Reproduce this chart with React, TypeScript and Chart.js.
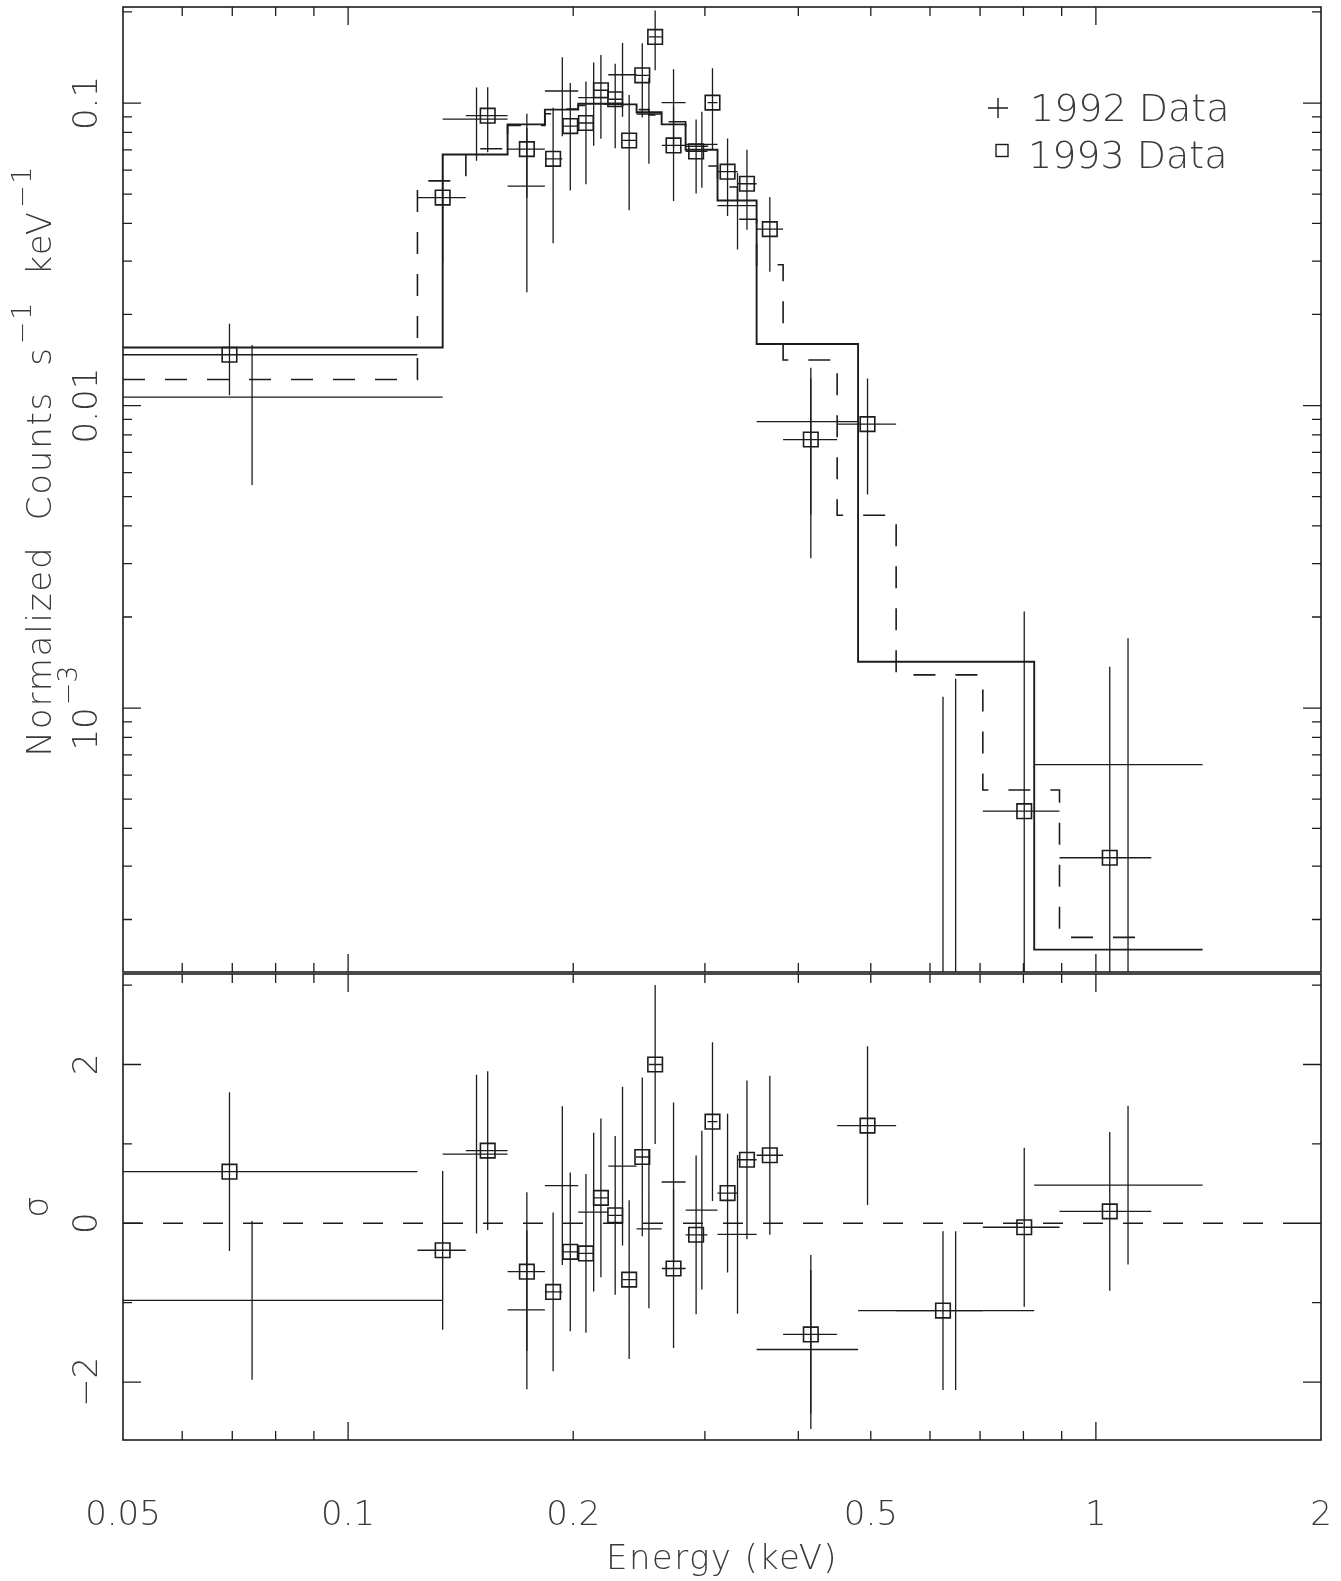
import React, { useEffect, useRef } from 'react';
import { Chart, registerables } from 'chart.js';

Chart.register(...registerables);

// ---------- axis ranges ----------
const energyMin = 0.05;
const energyMax = 2;
const countsMin = 1.341e-4;
const countsMax = 0.2077;
const sigmaMin = -2.73;
const sigmaMax = 3.14;

// ---------- 1992 data (crosses) ----------
const energy1992 = [0.0744, 0.1485, 0.1734, 0.1934, 0.213, 0.2328, 0.2525, 0.2724, 0.2972, 0.3317, 0.4157, 0.6493, 1.104];
const energyLo1992 = [0.05, 0.1338, 0.1634, 0.1833, 0.2031, 0.2228, 0.2431, 0.2626, 0.2827, 0.3119, 0.3518, 0.4808, 0.827];
const energyHi1992 = [0.1338, 0.1634, 0.1833, 0.2031, 0.2228, 0.2431, 0.2626, 0.2827, 0.3119, 0.3518, 0.4808, 0.827, 1.389];
const counts1992 = [0.01066, 0.0885, 0.0531, 0.1096, 0.1042, 0.124, 0.092, 0.1003, 0.073, 0.0458, 0.00885, -0.0005, 0.00065];
const countsErr1992 = [0.0052, 0.024, 0.0294, 0.032, 0.032, 0.034, 0.029, 0.029, 0.0205, 0.013, 0.00448, 0.00175, 0.00105];
const sigma1992 = [-0.97, 0.87, -1.09, 0.475, 0.14, 0.72, -0.07, 0.52, 0.165, -0.14, -1.59, -1.1, 0.48];

// model folded with 1992 bins (solid step)
const modelEdges1992 = [0.05, 0.1338, 0.1634, 0.1833, 0.2031, 0.2228, 0.2431, 0.2626, 0.2827, 0.3119, 0.3518, 0.4808, 0.827, 1.389];
const model1992 = [0.01556, 0.0676, 0.085, 0.0951, 0.0995, 0.099, 0.0932, 0.085, 0.0701, 0.0476, 0.01597, 0.001423, 0.000159];

// ---------- 1993 data (squares) ----------
const energy1993 = [0.0694, 0.1338, 0.1537, 0.1734, 0.188, 0.1982, 0.208, 0.2178, 0.2276, 0.2376, 0.2474, 0.2574, 0.2724, 0.292, 0.3071, 0.3217, 0.3415, 0.3664, 0.4157, 0.495, 0.6245, 0.802, 1.0436];
const energyLo1993 = [0.05, 0.1238, 0.1437, 0.1634, 0.1833, 0.1934, 0.2031, 0.2127, 0.2228, 0.2328, 0.2426, 0.2525, 0.2628, 0.2827, 0.3024, 0.3119, 0.3317, 0.3518, 0.3817, 0.4508, 0.5406, 0.706, 0.894];
const energyHi1993 = [0.1238, 0.1437, 0.1634, 0.1833, 0.1934, 0.2031, 0.2127, 0.2228, 0.2328, 0.2426, 0.2525, 0.2628, 0.2827, 0.3024, 0.3119, 0.3317, 0.3518, 0.3817, 0.4508, 0.5406, 0.706, 0.894, 1.186];
const counts1993 = [0.01472, 0.0487, 0.0908, 0.0704, 0.0654, 0.0839, 0.0859, 0.1102, 0.1029, 0.0752, 0.1235, 0.1654, 0.0724, 0.0692, 0.1003, 0.0593, 0.0541, 0.0383, 0.00772, 0.00868, -0.00091, 0.000456, 0.00032];
const countsErr1993 = [0.0039, 0.019, 0.022, 0.0218, 0.031, 0.0325, 0.032, 0.034, 0.032, 0.031, 0.034, 0.037, 0.025, 0.019, 0.03, 0.017, 0.016, 0.0106, 0.00459, 0.0036, 0.002, 0.00163, 0.00105];
const sigma1993 = [0.65, -0.34, 0.915, -0.61, -0.865, -0.36, -0.38, 0.32, 0.1, -0.71, 0.835, 2.0, -0.57, -0.145, 1.28, 0.38, 0.8, 0.857, -1.4, 1.23, -1.1, -0.05, 0.15];

// model folded with 1993 bins (dashed step)
const modelEdges1993 = [0.05, 0.1238, 0.1437, 0.1634, 0.1833, 0.1934, 0.2031, 0.2127, 0.2228, 0.2328, 0.2426, 0.2525, 0.2628, 0.2827, 0.3024, 0.3119, 0.3317, 0.3518, 0.3817, 0.4508, 0.5406, 0.706, 0.894, 1.186];
const model1993 = [0.01219, 0.0553, 0.0706, 0.0843, 0.0922, 0.0956, 0.0981, 0.0993, 0.0997, 0.0972, 0.0951, 0.0914, 0.0867, 0.072, 0.0619, 0.0528, 0.0413, 0.0292, 0.01414, 0.00434, 0.001287, 0.000536, 0.0001746];

// residual zero reference
const residualZero = [0, 0];

// ---------- ticks & labels ----------
const xTickValues = [0.05, 0.1, 0.2, 0.5, 1, 2];
const xTickLabels = ['0.05', '0.1', '0.2', '0.5', '1', '2'];
const xMajorTicks = [0.1, 1];
const xMinorTicks = [0.06, 0.07, 0.08, 0.09, 0.2, 0.3, 0.4, 0.5, 0.6, 0.7, 0.8, 0.9];
const countsMajorTicks = [0.1, 0.01, 0.001];
const countsMinorTicks = [0.2, 0.09, 0.08, 0.07, 0.06, 0.05, 0.04, 0.03, 0.02, 0.009, 0.008, 0.007, 0.006, 0.005, 0.004, 0.003, 0.002, 0.0009, 0.0008, 0.0007, 0.0006, 0.0005, 0.0004, 0.0003, 0.0002];
type Run = { t: string; sup?: boolean };
const countsTickLabels: Run[][] = [[{ t: '0.1' }], [{ t: '0.01' }], [{ t: '10' }, { t: '\u22123', sup: true }]];
const sigmaMajorTicks = [2, 0, -2];
const sigmaMinorTicks = [3, 1, -1];
const sigmaTickLabels = ['2', '0', '\u22122'];
const countsTitle: Run[] = [{ t: 'Normalized  Counts  s' }, { t: '\u22121', sup: true }, { t: '  keV' }, { t: '\u22121', sup: true }];
const sigmaTitle = '\u03c3';
const energyTitle = 'Energy (keV)';
const legendLabels = ['1992 Data', '1993 Data'];

// ---------- styling ----------
const FONT_FAMILY = '"DejaVu Sans", "Liberation Sans", sans-serif';
const TEXT_COLOR = '#3a3a3a';
const LINE_COLOR = '#1c1c1c';
const LABEL_SIZE = 34;
const SUP_SIZE = 27;

type P = { x: number; y: number | null };

function errorBarPoints(e: number[], lo: number[], hi: number[], v: number[], err: number[] | number, floor: number): P[] {
  const pts: P[] = [];
  for (let i = 0; i < e.length; i++) {
    const s = typeof err === 'number' ? err : err[i];
    if (v[i] > floor) {
      pts.push({ x: lo[i], y: v[i] }, { x: hi[i], y: v[i] }, { x: hi[i], y: null });
    }
    const a = Math.max(v[i] - s, floor);
    const b = v[i] + s;
    if (b > floor) pts.push({ x: e[i], y: a }, { x: e[i], y: b }, { x: e[i], y: null });
  }
  return pts;
}

function stepPoints(edges: number[], vals: number[]): P[] {
  const pts: P[] = [];
  for (let i = 0; i < vals.length; i++) {
    pts.push({ x: edges[i], y: vals[i] }, { x: edges[i + 1], y: vals[i] });
  }
  return pts;
}

function setFont(ctx: CanvasRenderingContext2D, size: number) {
  ctx.font = `200 ${size}px ${FONT_FAMILY}`;
}

function setSpacing(ctx: any, sp: number) {
  if ('letterSpacing' in ctx) ctx.letterSpacing = `${sp}px`;
}

function runsWidth(ctx: CanvasRenderingContext2D, runs: Run[], size: number, supSize: number) {
  let w = 0;
  for (const r of runs) {
    setFont(ctx, r.sup ? supSize : size);
    w += ctx.measureText(r.t).width + (r.sup ? 2 : 0);
  }
  return w;
}

function drawRuns(ctx: CanvasRenderingContext2D, runs: Run[], x: number, y: number, size: number, supSize: number, align: string, spacing = 0) {
  setSpacing(ctx, spacing);
  const w = runsWidth(ctx, runs, size, supSize);
  let cx = align === 'center' ? x - w / 2 : align === 'right' ? x - w : x;
  ctx.textAlign = 'left';
  ctx.textBaseline = 'alphabetic';
  for (const r of runs) {
    setFont(ctx, r.sup ? supSize : size);
    ctx.fillText(r.t, cx + (r.sup ? 2 : 0), r.sup ? y - size * 0.6 : y);
    cx += ctx.measureText(r.t).width + (r.sup ? 2 : 0);
  }
  setSpacing(ctx, 0);
}

function drawRotated(ctx: CanvasRenderingContext2D, runs: Run[], baseX: number, centerY: number, size: number, supSize: number, spacing = 0) {
  ctx.save();
  ctx.translate(baseX, centerY);
  ctx.rotate(-Math.PI / 2);
  drawRuns(ctx, runs, 0, 0, size, supSize, 'center', spacing);
  ctx.restore();
}

function drawFrameAndTicks(chart: any, yMajor: number[], yMinor: number[]) {
  const { ctx, chartArea: a, scales } = chart;
  ctx.save();
  ctx.strokeStyle = LINE_COLOR;
  ctx.lineWidth = 1.6;
  ctx.strokeRect(a.left, a.top, a.right - a.left, a.bottom - a.top);
  ctx.lineWidth = 1.3;
  ctx.beginPath();
  const xt = (vals: number[], len: number) => {
    for (const v of vals) {
      const px = scales.x.getPixelForValue(v);
      ctx.moveTo(px, a.top);
      ctx.lineTo(px, a.top + len);
      ctx.moveTo(px, a.bottom);
      ctx.lineTo(px, a.bottom - len);
    }
  };
  const yt = (vals: number[], len: number) => {
    for (const v of vals) {
      const py = scales.y.getPixelForValue(v);
      ctx.moveTo(a.left, py);
      ctx.lineTo(a.left + len, py);
      ctx.moveTo(a.right, py);
      ctx.lineTo(a.right - len, py);
    }
  };
  xt(xMajorTicks, 18);
  xt(xMinorTicks, 9);
  yt(yMajor, 18);
  yt(yMinor, 9);
  ctx.stroke();
  ctx.restore();
}

const topPlugin = {
  id: 'topDecor',
  afterDraw(chart: any) {
    const { ctx, chartArea: a, scales } = chart;
    drawFrameAndTicks(chart, countsMajorTicks, countsMinorTicks);
    ctx.save();
    ctx.fillStyle = TEXT_COLOR;
    countsMajorTicks.forEach((v, i) => {
      drawRotated(ctx, countsTickLabels[i], a.left - 26, scales.y.getPixelForValue(v), LABEL_SIZE, SUP_SIZE);
    });
    drawRotated(ctx, countsTitle, a.left - 72, a.top + (a.bottom - a.top) * 0.47, LABEL_SIZE, SUP_SIZE, 1.8);
    // legend
    ctx.strokeStyle = LINE_COLOR;
    ctx.lineWidth = 1.4;
    ctx.beginPath();
    ctx.moveTo(988, 108);
    ctx.lineTo(1008, 108);
    ctx.moveTo(998, 98);
    ctx.lineTo(998, 118);
    ctx.stroke();
    ctx.strokeRect(996, 144.5, 12, 12);
    drawRuns(ctx, [{ t: legendLabels[0] }], 1030, 121, 38, 26, 'left');
    drawRuns(ctx, [{ t: legendLabels[1] }], 1028, 168, 38, 26, 'left');
    ctx.restore();
  },
};

const bottomPlugin = {
  id: 'bottomDecor',
  afterDraw(chart: any) {
    const { ctx, chartArea: a, scales } = chart;
    drawFrameAndTicks(chart, sigmaMajorTicks, sigmaMinorTicks);
    ctx.save();
    ctx.fillStyle = TEXT_COLOR;
    sigmaMajorTicks.forEach((v, i) => {
      drawRotated(ctx, [{ t: sigmaTickLabels[i] }], a.left - 26, scales.y.getPixelForValue(v), LABEL_SIZE, SUP_SIZE);
    });
    drawRotated(ctx, [{ t: sigmaTitle }], a.left - 75, (a.top + a.bottom) / 2, LABEL_SIZE, SUP_SIZE);
    xTickValues.forEach((v, i) => {
      drawRuns(ctx, [{ t: xTickLabels[i] }], scales.x.getPixelForValue(v), a.bottom + 85, LABEL_SIZE, SUP_SIZE, 'center');
    });
    drawRuns(ctx, [{ t: energyTitle }], (a.left + a.right) / 2, a.bottom + 129, LABEL_SIZE, SUP_SIZE, 'center', 1.4);
    ctx.restore();
  },
};

function lineDs(data: P[], width: number, dash: number[] = []) {
  return {
    type: 'line' as const,
    data,
    borderColor: LINE_COLOR,
    borderWidth: width,
    borderDash: dash,
    pointRadius: 0,
    fill: false,
    spanGaps: false,
    tension: 0,
  };
}

function squaresDs(data: P[]) {
  return {
    type: 'line' as const,
    data,
    showLine: false,
    pointStyle: 'rect' as const,
    pointRadius: 10.3,
    pointBorderWidth: 1.6,
    pointBorderColor: LINE_COLOR,
    pointBackgroundColor: 'rgba(0,0,0,0)',
    borderColor: LINE_COLOR,
    backgroundColor: 'rgba(0,0,0,0)',
  };
}

function baseOptions(padding: any, yScale: any) {
  return {
    responsive: false,
    maintainAspectRatio: false,
    animation: false as const,
    devicePixelRatio: 1,
    events: [] as any[],
    layout: { padding, autoPadding: false },
    plugins: { legend: { display: false }, tooltip: { enabled: false }, title: { display: false } },
    scales: {
      x: { type: 'logarithmic' as const, min: energyMin, max: energyMax, bounds: 'data' as const, display: false },
      y: yScale,
    },
  };
}

export default function App() {
  const topRef = useRef<HTMLCanvasElement>(null);
  const botRef = useRef<HTMLCanvasElement>(null);

  useEffect(() => {
    const topChart = new Chart(topRef.current as HTMLCanvasElement, {
      type: 'line',
      data: {
        datasets: [
          lineDs(errorBarPoints(energy1992, energyLo1992, energyHi1992, counts1992, countsErr1992, countsMin), 1.3),
          lineDs(errorBarPoints(energy1993, energyLo1993, energyHi1993, counts1993, countsErr1993, countsMin), 1.3),
          lineDs(stepPoints(modelEdges1992, model1992), 1.9),
          lineDs(stepPoints(modelEdges1993, model1993), 1.6, [22, 20]),
          squaresDs(energy1993.map((e, i) => ({ x: e, y: counts1993[i] > countsMin ? counts1993[i] : null }))),
        ] as any,
      },
      options: baseOptions(
        { left: 123, right: 20, top: 7, bottom: 1 },
        { type: 'logarithmic', min: countsMin, max: countsMax, bounds: 'data', display: false }
      ) as any,
      plugins: [topPlugin],
    });

    const botChart = new Chart(botRef.current as HTMLCanvasElement, {
      type: 'line',
      data: {
        datasets: [
          lineDs(errorBarPoints(energy1992, energyLo1992, energyHi1992, sigma1992, 1, sigmaMin), 1.3),
          lineDs(errorBarPoints(energy1993, energyLo1993, energyHi1993, sigma1993, 1, sigmaMin), 1.3),
          lineDs([{ x: energyMin, y: residualZero[0] }, { x: energyMax, y: residualZero[1] }], 1.4, [20, 20]),
          squaresDs(energy1993.map((e, i) => ({ x: e, y: sigma1993[i] }))),
        ] as any,
      },
      options: baseOptions(
        { left: 123, right: 20, top: 1, bottom: 141 },
        { type: 'linear', min: sigmaMin, max: sigmaMax, bounds: 'data', display: false }
      ) as any,
      plugins: [bottomPlugin],
    });

    return () => {
      topChart.destroy();
      botChart.destroy();
    };
  }, []);

  return (
    <div style={{ position: 'absolute', left: 0, top: 0, width: 1341, height: 1581, background: '#fff' }}>
      <canvas ref={topRef} width={1341} height={973} style={{ position: 'absolute', left: 0, top: 0, width: 1341, height: 973 }} />
      <canvas ref={botRef} width={1341} height={608} style={{ position: 'absolute', left: 0, top: 973, width: 1341, height: 608 }} />
    </div>
  );
}
